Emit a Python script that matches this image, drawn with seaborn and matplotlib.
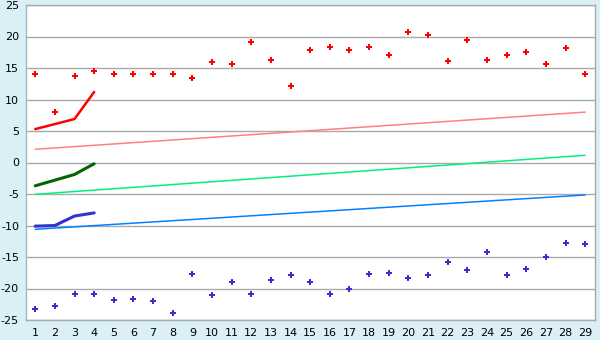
import matplotlib
matplotlib.use("Agg")
import matplotlib.pyplot as plt
import seaborn as sns
import pandas as pd
import numpy as np

days = list(range(1, 30))
max_points = [14.0, 8.0, 13.7, 14.5, 14.0, 14.0, 14.0, 14.0, 13.4, 15.9,
              15.7, 19.1, 16.2, 12.2, 17.8, 18.3, 17.8, 18.3, 17.0, 20.7,
              20.3, 16.1, 19.4, 16.2, 17.0, 17.5, 15.6, 18.1, 14.0]
min_points = [-23.3, -22.8, -20.9, -20.9, -21.9, -21.7, -22.0, -23.9, -17.7, -21.1,
              -18.9, -20.9, -18.7, -17.9, -19.0, -20.9, -20.0, -17.7, -17.6, -18.4,
              -17.9, -15.8, -17.1, -14.2, -17.9, -16.9, -15.0, -12.8, -13.0]

short_days = [1, 2, 3, 4]
red_short = [5.3, 6.1, 6.9, 11.2]
green_short = [-3.7, -2.8, -1.9, -0.2]
blue_short = [-10.1, -10.0, -8.5, -8.0]

trend_days = [1, 29]
red_trend = [2.1, 8.0]
green_trend = [-5.05, 1.15]
blue_trend = [-10.6, -5.15]

sns.set_style("white")
plt.rcParams['font.family'] = ['DejaVu Sans']
plt.rcParams['axes.unicode_minus'] = False

fig = plt.figure(figsize=(6, 3.4), dpi=100)
fig.patch.set_facecolor("#DAEFF6")
ax = fig.add_axes([26/600, 1-320/340, (595-26)/600, (320-5)/340])
ax.set_facecolor("white")

df_pts = pd.DataFrame({"day": days, "max": max_points, "min": min_points})
df_short = pd.DataFrame({"day": short_days, "r": red_short, "g": green_short, "b": blue_short})
df_trend = pd.DataFrame({"day": trend_days, "r": red_trend, "g": green_trend, "b": blue_trend})

sns.lineplot(data=df_trend, x="day", y="r", ax=ax, color="#FF8080", lw=1.1, zorder=3)
sns.lineplot(data=df_trend, x="day", y="g", ax=ax, color="#00F080", lw=1.1, zorder=3)
sns.lineplot(data=df_trend, x="day", y="b", ax=ax, color="#0080FF", lw=1.1, zorder=3)

sns.lineplot(data=df_short, x="day", y="r", ax=ax, color="#FF0000", lw=1.8, zorder=4)
sns.lineplot(data=df_short, x="day", y="g", ax=ax, color="#006600", lw=2.2, zorder=4)
sns.lineplot(data=df_short, x="day", y="b", ax=ax, color="#3333CC", lw=2.2, zorder=4)

sns.scatterplot(data=df_pts, x="day", y="max", ax=ax, color="#FF0000", marker="P",
                s=24, linewidth=0, zorder=5)
sns.scatterplot(data=df_pts, x="day", y="min", ax=ax, color="#3333CC", marker="P",
                s=24, linewidth=0, zorder=5)

ax.set_xlim(0.53, 29.5)
ax.set_ylim(-25, 25)
ax.set_yticks(np.arange(-25, 26, 5))
ax.set_xticks(days)
ax.set_xticklabels([str(d) for d in days])
ax.grid(axis="y", color="#AAAAAA", lw=1)
ax.set_axisbelow(True)
ax.set_xlabel("")
ax.set_ylabel("")
for side in ["top", "right", "bottom", "left"]:
    ax.spines[side].set_color("#AAAAAA")
    ax.spines[side].set_linewidth(1)
ax.spines["left"].set_color("#A0B8C8")
ax.tick_params(axis="both", which="both", direction="out", length=4, width=1,
               color="#000000", labelsize=8, labelcolor="#000000", pad=1)
ax.tick_params(axis="x", pad=2)

fig.savefig("out.png", dpi=100, facecolor=fig.get_facecolor())
